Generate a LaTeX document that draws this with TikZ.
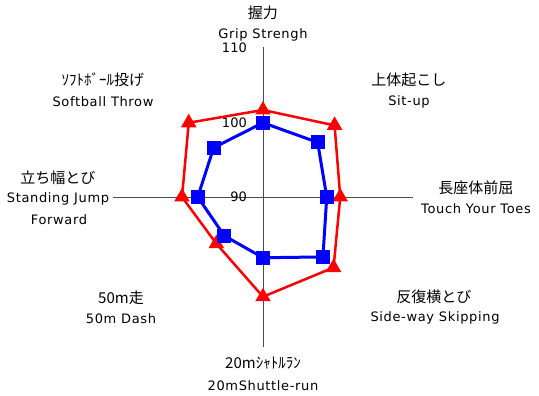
\documentclass[tikz,border=0pt]{standalone}
\usepackage{fontspec}
\setmainfont{DejaVu Sans}[LetterSpace=5]
\newfontfamily\tickfont{DejaVu Sans}
\newfontfamily\jpfont{Noto Sans CJK JP}
\usetikzlibrary{shapes.geometric}

\tikzstyle{axis}=[draw,black!70,line width=0.8pt]
\tikzstyle{red series}=[draw,red,line width=2.5pt,line join=round]
\tikzstyle{blue series}=[draw,blue,line width=3pt,line join=round]
\tikzstyle{tri mark}=[regular polygon,regular polygon sides=3,fill=red,minimum size=18pt,inner sep=0pt]
\tikzstyle{sq mark}=[rectangle,fill=blue,minimum size=14pt,inner sep=0pt]
\tikzstyle{tick label}=[anchor=east,font=\tickfont\fontsize{13}{15}\selectfont,inner sep=0pt]
\tikzstyle{jp label}=[font=\jpfont\fontsize{15}{17}\selectfont,inner sep=0pt]
\tikzstyle{en label}=[font=\fontsize{13}{15}\selectfont,inner sep=0pt]

\begin{document}
\begin{tikzpicture}[x=1pt,y=1pt]
    \useasboundingbox (-263,-199) rectangle (276,197);
    % axes
    \coordinate (top) at (0,150);
    \coordinate (bottom) at (0,-150);
    \coordinate (left) at (-150,0);
    \coordinate (right) at (150,0);
    \path[axis] (top) -- (bottom);
    \path[axis] (left) -- (right);
    \foreach \pos/\name/\txt in {{(-16,149)/t110/110}, {(-16,74)/t100/100}, {(-16,0)/t90/90}}
        \node[tick label] (\name) at \pos {\txt};

    % category labels
    \foreach \pos/\name/\txt in {{(0,184)/grip/握力}, {(146,117)/situp/上体起こし},
                                 {(213,9)/toes/長座体前屈}, {(171,-100)/side/反復横とび},
                                 {(0,-166)/shuttle/20mｼｬﾄﾙﾗﾝ}, {(-142,-101)/dash/50m走},
                                 {(-205,19)/jump/立ち幅とび}, {(-160,117)/throw/ｿﾌﾄﾎﾞｰﾙ投げ}}
        \node[jp label] (\name) at \pos {\txt};
    \foreach \pos/\name/\txt in {{(0,162)/gripen/Grip Strengh}, {(146,95)/situpen/Sit-up},
                                 {(213,-12)/toesen/Touch Your Toes}, {(172,-121)/sideen/Side-way Skipping},
                                 {(0,-189)/shuttleen/20mShuttle-run}, {(-142,-122)/dashen/50m Dash},
                                 {(-205,-2)/jumpen/Standing Jump}, {(-204,-23)/jumpen2/Forward},
                                 {(-160,95)/throwen/Softball Throw}}
        \node[en label] (\name) at \pos {\txt};

    % data
    \foreach \ang/\val [count=\i] in {90/101.6, 45/103.5, 0/100.3, -45/103.3,
                                      -90/103.3, -135/98.8, 180/100.8, 135/104.0}
        \coordinate (r\i) at (\ang:{(\val-90)*7.5});
    \foreach \ang/\val [count=\i] in {90/99.9, 45/100.3, 0/98.5, -45/101.3,
                                      -90/98.1, -135/97.3, 180/98.7, 135/99.3}
        \coordinate (b\i) at (\ang:{(\val-90)*7.5});

    \path[red series] (r1) \foreach \i in {2,...,8} {-- (r\i)} -- cycle;
    \foreach \i in {1,...,8}
        \node[tri mark] (rm\i) at (r\i) {};
    \path[blue series] (b1) \foreach \i in {2,...,8} {-- (b\i)} -- cycle;
    \foreach \i in {1,...,8}
        \node[sq mark] (bm\i) at (b\i) {};
\end{tikzpicture}
\end{document}
